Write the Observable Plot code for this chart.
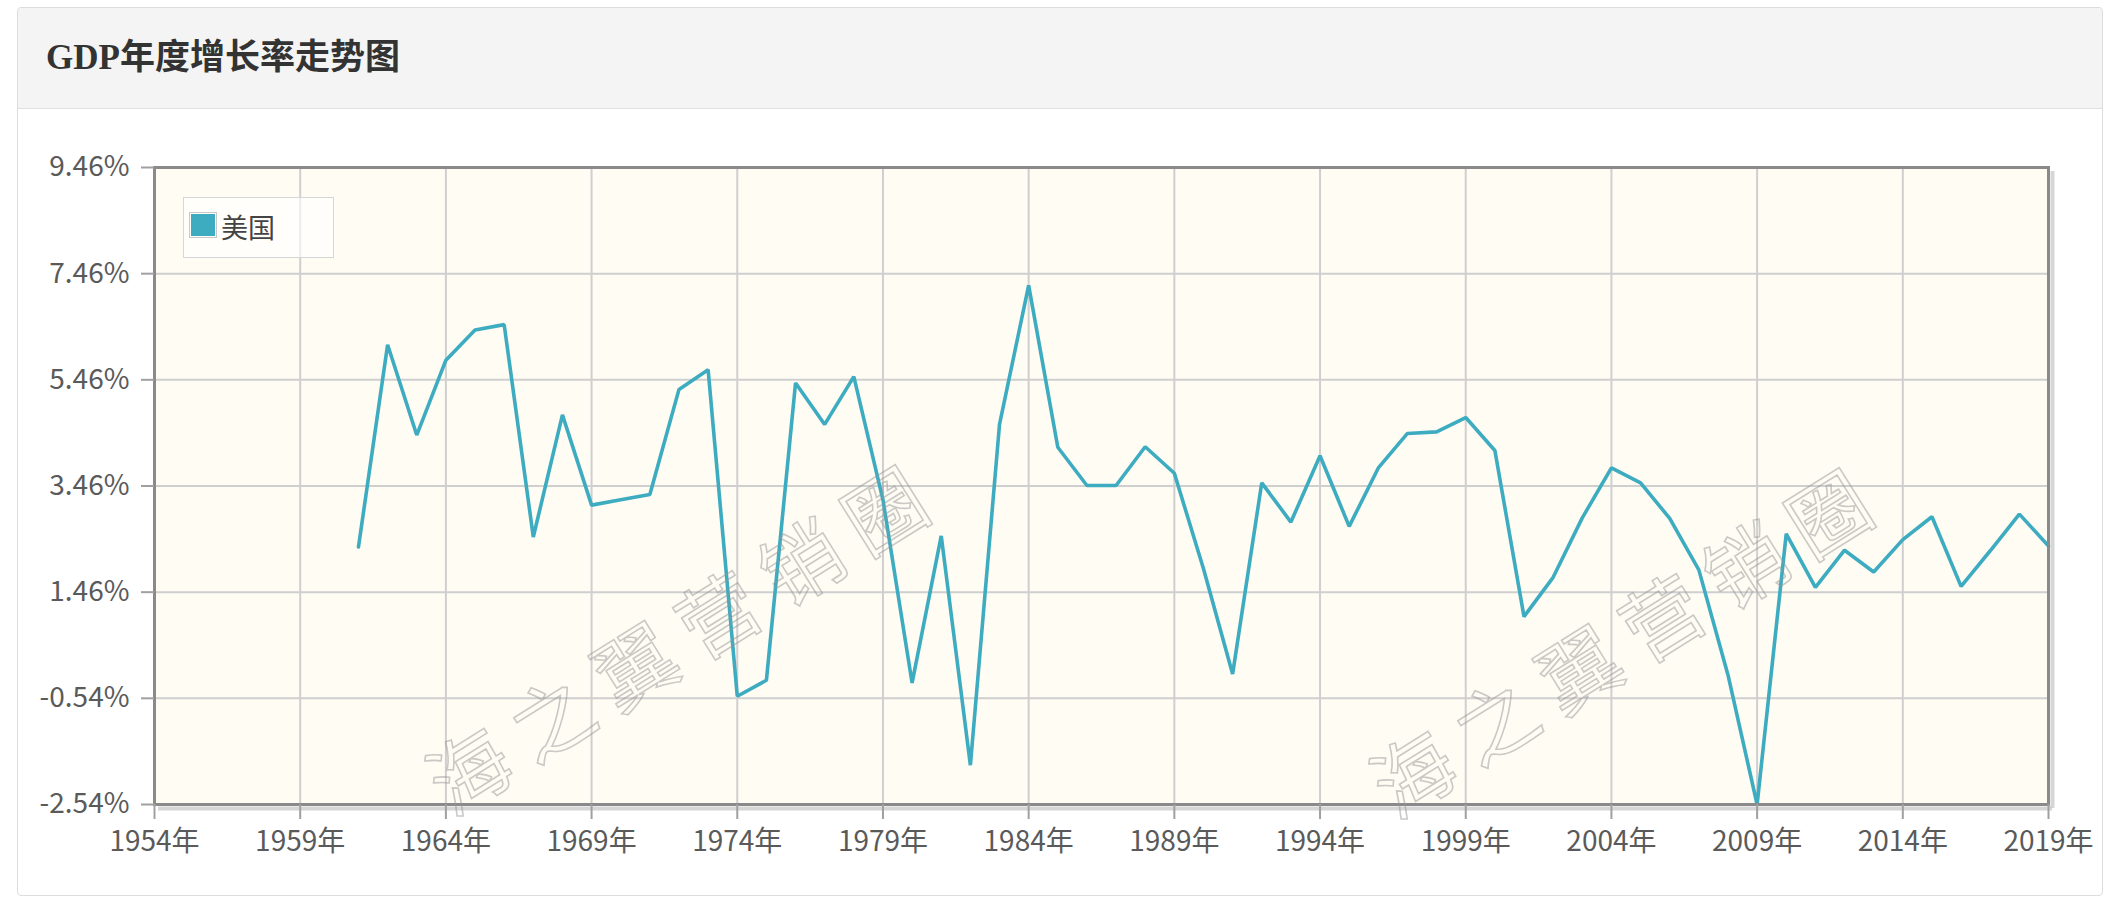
<!DOCTYPE html>
<html>
<head>
<meta charset="utf-8">
<script src="https://cdn.jsdelivr.net/npm/d3@7"></script>
<script src="https://cdn.jsdelivr.net/npm/@observablehq/plot@0.6"></script>
<style>
  html, body { margin: 0; padding: 0; background: #ffffff; }
  body { width: 2110px; height: 906px; position: relative; overflow: hidden; }
  .card { position: absolute; left: 17px; top: 7px; width: 2086px; height: 889px;
          border: 1px solid #dcdcdc; border-radius: 4px; box-sizing: border-box; background: #fff; }
  .header { position: absolute; left: 0; top: 0; right: 0; height: 100px; background: #f4f4f4;
            border-bottom: 1px solid #e0e0e0; border-radius: 4px 4px 0 0; }
  .title { position: absolute; left: 28px; top: 0; height: 100px; line-height: 100px;
           font-family: "Liberation Serif", "Noto Sans CJK SC", serif; font-weight: bold;
           font-size: 35px; color: #333; }
  #chart { position: absolute; left: 0; top: 107px; }
  .legend { position: absolute; left: 183px; top: 197px; width: 151px; height: 61px;
            border: 1.5px solid #d6d6d6; background: rgba(255,255,255,0.6); box-sizing: border-box; }
  .swatch { position: absolute; left: 5px; top: 14px; width: 28px; height: 26px;
            border: 1px solid #c8c8c8; padding: 1px; background-clip: content-box; box-sizing: border-box; }
  .legend-label { position: absolute; left: 37px; top: 9px; height: 40px; line-height: 40px;
                  font-family: "Noto Sans CJK SC", sans-serif; font-size: 27px; color: #444; }
  .wm { position: absolute; white-space: nowrap; font-family: "Noto Sans CJK SC", sans-serif;
        font-size: 80px; letter-spacing: 18px; color: transparent;
        -webkit-text-stroke: 1.6px rgba(150,150,150,0.5);
        transform: translate(-50%, -50%) rotate(-32deg); pointer-events: none; }
</style>
</head>
<body>
<div class="card"><div class="header"><div class="title" id="title"></div></div></div>
<div id="chart"></div>
<div class="legend"><div class="swatch" id="swatch"></div><div class="legend-label" id="legendLabel"></div></div>
<div class="wm" id="wm1" style="left:682px; top:632px;"></div>
<div class="wm" id="wm2" style="left:1626px; top:635px;"></div>
<script>
// ---- data ----
const chartTitle = "GDP年度增长率走势图";
const seriesName = "美国";
const watermarkText = "海之翼营销圈";

const years = [
  1961, 1962, 1963, 1964, 1965, 1966, 1967, 1968, 1969, 1970,
  1971, 1972, 1973, 1974, 1975, 1976, 1977, 1978, 1979, 1980,
  1981, 1982, 1983, 1984, 1985, 1986, 1987, 1988, 1989, 1990,
  1991, 1992, 1993, 1994, 1995, 1996, 1997, 1998, 1999, 2000,
  2001, 2002, 2003, 2004, 2005, 2006, 2007, 2008, 2009, 2010,
  2011, 2012, 2013, 2014, 2015, 2016, 2017, 2018, 2019
];
const growth = [
  2.31, 6.12, 4.42, 5.83, 6.40, 6.50, 2.50, 4.80, 3.10, 3.20,
  3.30, 5.28, 5.65, -0.50, -0.20, 5.40, 4.62, 5.52, 3.20, -0.25,
  2.52, -1.80, 4.62, 7.24, 4.19, 3.47, 3.47, 4.20, 3.70, 1.90,
  -0.08, 3.52, 2.78, 4.03, 2.70, 3.80, 4.45, 4.48, 4.75, 4.13,
  1.00, 1.74, 2.86, 3.80, 3.52, 2.85, 1.88, -0.10, -2.54, 2.56,
  1.55, 2.25, 1.84, 2.45, 2.88, 1.57, 2.24, 2.93, 2.33
];
const xTickYears = [1954, 1959, 1964, 1969, 1974, 1979, 1984, 1989, 1994, 1999, 2004, 2009, 2014, 2019];
const yTickValues = [-2.54, -0.54, 1.46, 3.46, 5.46, 7.46, 9.46];

// ---- styles ----
const lineColor = "#3eacc0";
const gridColor = "#cfcfcf";
const textColor = "#5a5a5a";

const data = years.map((year, i) => ({year, value: growth[i]}));
const xMin = xTickYears[0], xMax = xTickYears[xTickYears.length - 1];
const yMin = yTickValues[0], yMax = yTickValues[yTickValues.length - 1];

document.getElementById("title").textContent = chartTitle;
document.getElementById("legendLabel").textContent = seriesName;
document.getElementById("swatch").style.backgroundColor = lineColor;
document.getElementById("wm1").textContent = watermarkText;
document.getElementById("wm2").textContent = watermarkText;

const chart = Plot.plot({
  width: 2110,
  height: 790,
  marginLeft: 154,
  marginRight: 62,
  marginTop: 60,
  marginBottom: 93,
  style: {
    fontFamily: "'Noto Sans CJK SC', sans-serif",
    fontSize: "28px",
    color: textColor,
    background: "transparent",
    overflow: "visible"
  },
  x: {domain: [xMin, xMax], label: null},
  y: {domain: [yMin, yMax], label: null},
  marks: [
    Plot.frame({fill: "#fffcf4", stroke: "none"}),
    Plot.gridX(xTickYears, {stroke: gridColor, strokeWidth: 2, strokeOpacity: 1}),
    Plot.gridY(yTickValues, {stroke: gridColor, strokeWidth: 2, strokeOpacity: 1}),
    Plot.ruleX([xMax], {dx: 4, dy: 4, stroke: "#c4c4c4", strokeWidth: 4, strokeOpacity: 0.7}),
    Plot.ruleY([yMin], {dx: 4, dy: 4, stroke: "#c4c4c4", strokeWidth: 4, strokeOpacity: 0.7}),
    Plot.line(data, {x: "year", y: "value", stroke: lineColor, strokeWidth: 3.6, strokeLinejoin: "miter"}),
    Plot.frame({stroke: "#8a8a8a", strokeWidth: 3}),
    Plot.axisX(xTickYears, {
      label: null, tickSize: 15, tickPadding: 12, stroke: "#a0a0a0", strokeWidth: 2,
      fill: textColor, tickFormat: d => d + "年", fontSize: 28
    }),
    Plot.axisY(yTickValues, {
      label: null, tickSize: 13, tickPadding: 12, stroke: "#a0a0a0", strokeWidth: 2,
      fill: textColor, tickFormat: d => d.toFixed(2) + "%", fontSize: 28
    })
  ]
});
document.getElementById("chart").appendChild(chart);
</script>
</body>
</html>
